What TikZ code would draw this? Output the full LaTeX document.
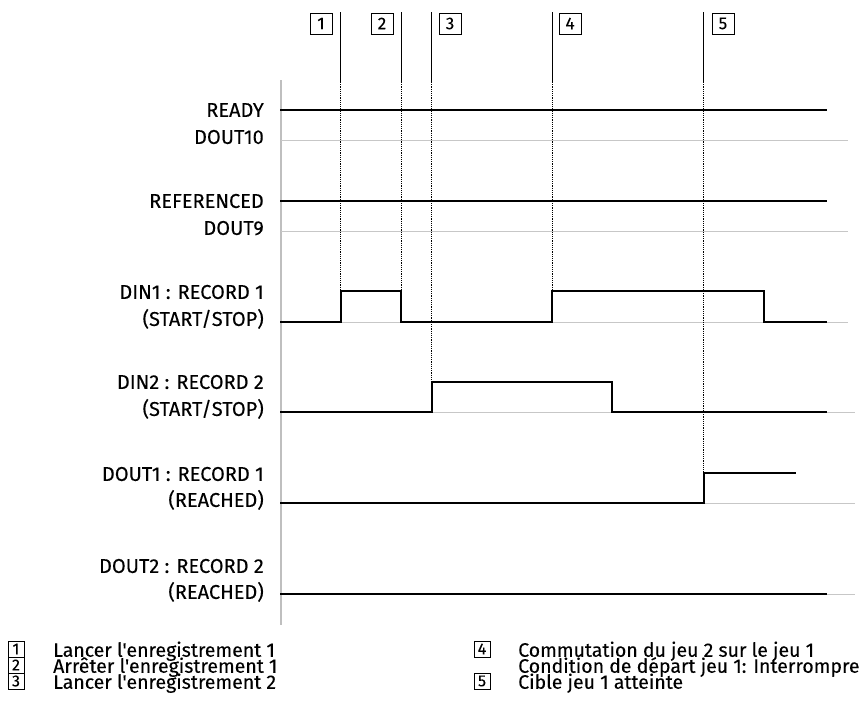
\documentclass[tikz,border=0pt]{standalone}
\usepackage{fontspec}
\setmainfont{Fira Sans}[FakeBold=0.1, Ligatures=TeXOff]
\begin{document}
\begin{tikzpicture}[x=1pt,y=-1pt,
  sig/.style={line width=2.6pt, line join=miter, line cap=rect},
  base/.style={draw=black!22, line width=1pt},
  axis/.style={draw=black!25, line width=2pt},
  mk/.style={line width=0.9pt},
  mkdot/.style={line width=1pt, dash pattern=on 1.2pt off 1pt},
  lbl/.style={anchor=east, inner sep=0pt, text height=13.8pt, text depth=0pt, font=\fontsize{20}{20}\selectfont},
  tbox/.style={draw, line width=0.8pt, minimum width=22pt, minimum height=21pt, inner sep=0pt, font=\fontsize{17}{17}\selectfont},
  lbox/.style={draw, line width=0.8pt, minimum size=16pt, inner sep=0pt, font=\fontsize{16}{16}\selectfont},
  ltext/.style={anchor=west, inner sep=0pt, text height=13.5pt, text depth=0pt, font=\fontsize{19.5}{19.5}\selectfont}
]
\useasboundingbox (0,0) rectangle (865,715);

% axis
\coordinate (axtop) at (281,80);
\coordinate (axbot) at (281,625);
\draw[axis] (axtop) -- (axbot);

% gray baselines
\coordinate (b1s) at (281,140); \coordinate (b1e) at (848,140);
\coordinate (b2s) at (281,231); \coordinate (b2e) at (848,231);
\coordinate (b3s) at (281,322); \coordinate (b3e) at (848,322);
\coordinate (b4s) at (281,412); \coordinate (b4e) at (855,412);
\coordinate (b5s) at (281,503); \coordinate (b5e) at (855,503);
\coordinate (b6s) at (281,594); \coordinate (b6e) at (855,594);
\foreach \i in {1,...,6} {\draw[base] (b\i s) -- (b\i e);}

% labels
\node[lbl] (l1a) at (264,110) {READY};
\node[lbl] (l1b) at (264,137) {DOUT10};
\node[lbl] (l2a) at (264,201) {REFERENCED};
\node[lbl] (l2b) at (264,228) {DOUT9};
\node[lbl] (l3a) at (264,292) {DIN1 : RECORD 1};
\node[lbl] (l3b) at (264,319) {(START/STOP)};
\node[lbl] (l4a) at (264,382) {DIN2 : RECORD 2};
\node[lbl] (l4b) at (264,409) {(START/STOP)};
\node[lbl] (l5a) at (264,474) {DOUT1 : RECORD 1};
\node[lbl] (l5b) at (264,500) {(REACHED)};
\node[lbl] (l6a) at (264,566) {DOUT2 : RECORD 2};
\node[lbl] (l6b) at (264,592) {(REACHED)};

% markers
\foreach \n/\x/\yb in {1/340/291, 2/401/291, 3/431/382, 4/552/291, 5/703/473} {
  \coordinate (m\n top) at (\x,12);
  \coordinate (m\n mid) at (\x,82);
  \coordinate (m\n bot) at (\x,\yb);
  \draw[mk] (m\n top) -- (m\n mid);
  \draw[mkdot] (m\n mid) -- (m\n bot);
}
\node[tbox] (t1) at (321,23.5) {1};
\node[tbox] (t2) at (382,23.5) {2};
\node[tbox] (t3) at (450,23.5) {3};
\node[tbox] (t4) at (570,23.5) {4};
\node[tbox] (t5) at (723,23.5) {5};

% signals
\draw[sig] (281,110) -- (826,110);
\draw[sig] (281,201) -- (826,201);
\draw[sig] (281,322) -- (341,322) -- (341,291) -- (401,291) -- (401,322) -- (552,322) -- (552,291) -- (764,291) -- (764,322) -- (826,322);
\draw[sig] (281,412) -- (432,412) -- (432,382) -- (612,382) -- (612,412) -- (826,412);
\draw[sig] (281,503) -- (704,503) -- (704,473) -- (795,473);
\draw[sig] (281,594) -- (826,594);

% legend
\node[lbox] (k1) at (16,649) {1};
\node[lbox] (k2) at (16,665) {2};
\node[lbox] (k3) at (16,681) {3};
\node[ltext] (k1t) at (53,650) {Lancer l'enregistrement 1};
\node[ltext] (k2t) at (53,666) {Arrêter l'enregistrement 1};
\node[ltext] (k3t) at (53,682) {Lancer l'enregistrement 2};
\node[lbox] (k4) at (482,649) {4};
\node[lbox] (k5) at (482,681) {5};
\node[ltext] (k4t) at (518,650) {Commutation du jeu 2 sur le jeu 1};
\node[ltext] (k4u) at (518,666) {Condition de départ jeu 1: Interrompre};
\node[ltext] (k5t) at (518,682) {Cible jeu 1 atteinte};
\end{tikzpicture}
\end{document}
